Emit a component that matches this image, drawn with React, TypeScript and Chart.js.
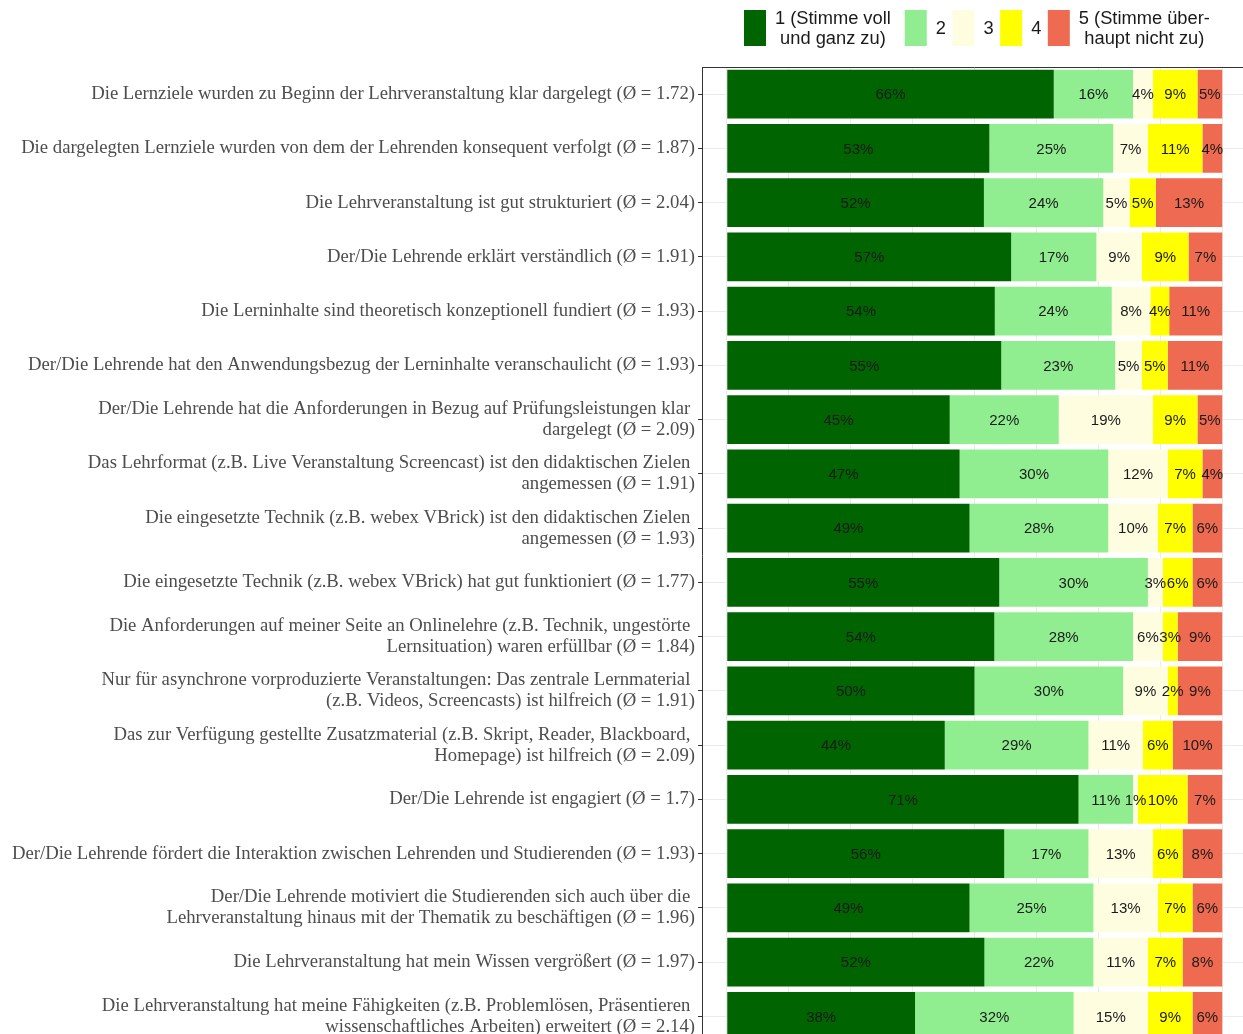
import React, { useEffect, useRef } from "react";
import { Chart, registerables } from "chart.js";

Chart.register(...registerables);

const categories: (string | string[])[] = [
  "Die Lernziele wurden zu Beginn der Lehrveranstaltung klar dargelegt (Ø = 1.72)",
  "Die dargelegten Lernziele wurden von dem der Lehrenden konsequent verfolgt (Ø = 1.87)",
  "Die Lehrveranstaltung ist gut strukturiert (Ø = 2.04)",
  "Der/Die Lehrende erklärt verständlich (Ø = 1.91)",
  "Die Lerninhalte sind theoretisch konzeptionell fundiert (Ø = 1.93)",
  "Der/Die Lehrende hat den Anwendungsbezug der Lerninhalte veranschaulicht (Ø = 1.93)",
  ["Der/Die Lehrende hat die Anforderungen in Bezug auf Prüfungsleistungen klar ", "dargelegt (Ø = 2.09)"],
  ["Das Lehrformat (z.B. Live Veranstaltung Screencast) ist den didaktischen Zielen ", "angemessen (Ø = 1.91)"],
  ["Die eingesetzte Technik (z.B. webex VBrick) ist den didaktischen Zielen ", "angemessen (Ø = 1.93)"],
  "Die eingesetzte Technik (z.B. webex VBrick) hat gut funktioniert (Ø = 1.77)",
  ["Die Anforderungen auf meiner Seite an Onlinelehre (z.B. Technik, ungestörte ", "Lernsituation) waren erfüllbar (Ø = 1.84)"],
  ["Nur für asynchrone vorproduzierte Veranstaltungen: Das zentrale Lernmaterial ", "(z.B. Videos, Screencasts) ist hilfreich (Ø = 1.91)"],
  ["Das zur Verfügung gestellte Zusatzmaterial (z.B. Skript, Reader, Blackboard, ", "Homepage) ist hilfreich (Ø = 2.09)"],
  "Der/Die Lehrende ist engagiert (Ø = 1.7)",
  "Der/Die Lehrende fördert die Interaktion zwischen Lehrenden und Studierenden (Ø = 1.93)",
  ["Der/Die Lehrende motiviert die Studierenden sich auch über die ", "Lehrveranstaltung hinaus mit der Thematik zu beschäftigen (Ø = 1.96)"],
  "Die Lehrveranstaltung hat mein Wissen vergrößert (Ø = 1.97)",
  ["Die Lehrveranstaltung hat meine Fähigkeiten (z.B. Problemlösen, Präsentieren ", "wissenschaftliches Arbeiten) erweitert (Ø = 2.14)"],
];

// percentages per answer level
const level1 = [66, 53, 51.9, 57.4, 54.1, 55.4, 45, 47, 49, 55, 54, 50, 44, 71, 56, 49, 52, 38];
const level2 = [16, 25, 24.1, 17.2, 23.6, 23.0, 22, 30, 28, 30, 28, 30, 29, 11, 17, 25, 22, 32];
const level3 = [4, 7, 5.3, 9.2, 7.8, 5.4, 19, 12, 10, 3, 6, 9, 11, 1, 13, 13, 11, 15];
const level4 = [9, 11, 5.3, 9.4, 3.8, 5.2, 9, 7, 7, 6, 3, 2, 6, 10, 6, 7, 7, 9];
const level5 = [5, 4, 13.4, 6.8, 10.7, 11.0, 5, 4, 6, 6, 9, 9, 10, 7, 8, 6, 8, 6];

const seriesLabels: string[][] = [
  ["1 (Stimme voll", "und ganz zu)"],
  ["2"],
  ["3"],
  ["4"],
  ["5 (Stimme über-", "haupt nicht zu)"],
];
const seriesColors = ["#006400", "#90EE90", "#FFFDE0", "#FFFF00", "#EE6A50"];
const gridValues = [0, 0.125, 0.25, 0.375, 0.5, 0.625, 0.75, 0.875, 1];

const allSeries = [level1, level2, level3, level4, level5];

export default function App() {
  const ref = useRef<HTMLCanvasElement | null>(null);

  useEffect(() => {
    if (!ref.current) return;
    const totals = categories.map((_, i) => allSeries.reduce((s, a) => s + a[i], 0));
    const datasets = allSeries.map((arr, k) => ({
      label: seriesLabels[k].join(" "),
      data: arr.map((v, i) => v / totals[i]),
      raw: arr,
      backgroundColor: seriesColors[k],
      borderWidth: 0,
      barPercentage: 0.9,
      categoryPercentage: 1,
    }));

    const labelPlugin = {
      id: "segLabels",
      afterDatasetsDraw(chart: any) {
        const ctx = chart.ctx;
        ctx.save();
        ctx.font = "15px 'Liberation Sans', Arial, sans-serif";
        ctx.fillStyle = "#1a1a1a";
        ctx.textAlign = "center";
        ctx.textBaseline = "middle";
        chart.data.datasets.forEach((ds: any, di: number) => {
          const meta = chart.getDatasetMeta(di);
          meta.data.forEach((el: any, i: number) => {
            const v = ds.raw[i];
            if (!v) return;
            const p = el.getProps(["x", "base", "y"], true);
            ctx.fillText(Math.round(v) + "%", (p.x + p.base) / 2, p.y + 1);
          });
        });
        ctx.restore();
      },
    };

    const frameAndLegend = {
      id: "frameLegend",
      afterDraw(chart: any) {
        const ctx = chart.ctx;
        const a = chart.chartArea;
        ctx.save();
        ctx.strokeStyle = "#333333";
        ctx.lineWidth = 1;
        ctx.beginPath();
        ctx.moveTo(a.left, Math.round(a.top) + 0.5);
        ctx.lineTo(a.right, Math.round(a.top) + 0.5);
        ctx.stroke();

        // legend
        ctx.font = "18.3px 'Liberation Sans', Arial, sans-serif";
        ctx.textAlign = "center";
        ctx.textBaseline = "middle";
        let x = 744;
        const keyTop = 10;
        const keyH = 36;
        const keyW = 22;
        chart.data.datasets.forEach((ds: any, k: number) => {
          const lines = seriesLabels[k];
          ctx.fillStyle = ds.backgroundColor;
          ctx.fillRect(x, keyTop, keyW, keyH);
          const w = Math.max(...lines.map((l) => ctx.measureText(l).width));
          const cx = x + keyW + 9 + w / 2;
          ctx.fillStyle = "#1a1a1a";
          const mid = keyTop + keyH / 2 + 1;
          const lh = 20;
          lines.forEach((l, j) => {
            const yy = mid + (j - (lines.length - 1) / 2) * lh;
            ctx.fillText(l, cx, yy);
          });
          x = x + keyW + 9 + w + (lines.length > 1 ? 14 : 6.5);
        });
        ctx.restore();
      },
    };

    const chart = new Chart(ref.current, {
      type: "bar",
      data: { labels: categories as any, datasets: datasets as any },
      options: {
        indexAxis: "y",
        responsive: false,
        animation: false,
        devicePixelRatio: 1,
        layout: { padding: { top: 67, right: 3, bottom: 0, left: 0 } },
        plugins: { legend: { display: false }, tooltip: { enabled: false } },
        scales: {
          x: {
            type: "linear",
            stacked: true,
            min: -0.05,
            max: 1.05,
            afterBuildTicks: (scale: any) => {
              scale.ticks = gridValues.map((v) => ({ value: v }));
            },
            afterFit: (scale: any) => {
              scale.height = 0;
            },
            ticks: { display: false },
            grid: { color: "#EBEBEB", lineWidth: 1, drawTicks: false },
            border: { display: false },
          },
          y: {
            type: "category",
            stacked: true,
            offset: true,
            afterFit: (scale: any) => {
              scale.width = 702;
            },
            ticks: {
              color: "#4D4D4D",
              padding: 3,
              font: { family: "'Liberation Serif', 'Times New Roman', serif", size: 18.7, lineHeight: "21px" as any },
              autoSkip: false,
            },
            grid: {
              offset: false,
              color: "#EBEBEB",
              lineWidth: 1,
              tickColor: "#333333",
              tickLength: 4,
              drawTicks: true,
            },
            border: { display: true, color: "#333333", width: 1 },
          },
        },
      },
      plugins: [labelPlugin, frameAndLegend],
    });
    return () => chart.destroy();
  }, []);

  return (
    <div style={{ position: "fixed", left: 0, top: 0, width: 1243, height: 1034, overflow: "hidden", background: "#fff" }}>
      <canvas ref={ref} width={1250} height={1057} style={{ display: "block" }} />
    </div>
  );
}
